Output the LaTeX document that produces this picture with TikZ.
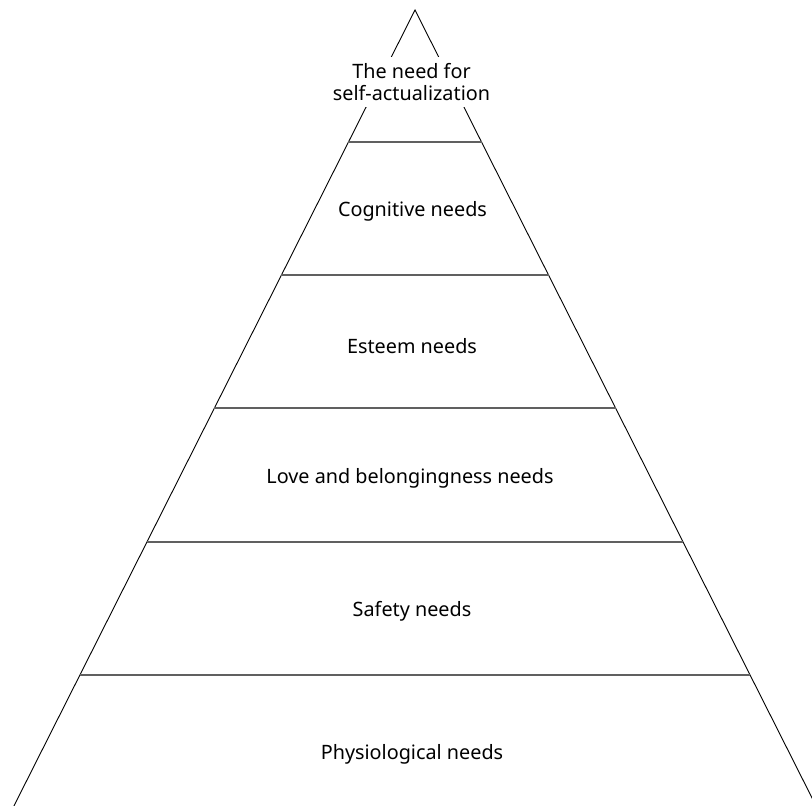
\documentclass[tikz,border=0pt]{standalone}
\usepackage{fontspec}
\newfontfamily\needfont{Noto Sans}
\usepackage{tikz}
\usetikzlibrary{calc}

\begin{document}
\begin{tikzpicture}[x=1pt,y=-1pt,font=\needfont\fontsize{19.8}{22}\selectfont,
    side/.style={black,line width=0.9pt},
    tier/.style={gray!75!black,line width=1.5pt},
    need/.style={inner sep=0pt,align=center,anchor=base}]
  \useasboundingbox (0,0) rectangle (812,806);
  \clip (0,0) rectangle (812,806);
  \coordinate (apex) at (415,10);
  \coordinate (bl) at (13.9,806);
  \coordinate (br) at (816.1,806);
  % pyramid sides
  \draw[side] (bl)--(apex)--(br);
  % tiers
  \foreach \y in {142,275,408,542,675}
    \draw[tier] ({415-0.504*(\y-10)},\y)--({415+0.504*(\y-10)},\y);
  % labels
  \node[inner sep=0pt,align=center,fill=white,minimum height=50pt,inner xsep=4pt]
    (selfact) at (411.5,82) {The need for\\self-actualization};
  \node[need] (cognitive) at (412.5,216.7) {Cognitive needs};
  \node[need] (esteem) at (412,353) {Esteem needs};
  \node[need] (love) at (410,483.3) {Love and belongingness needs};
  \node[need] (safety) at (412,616) {Safety needs};
  \node[need] (physio) at (412,759.3) {Physiological needs};
\end{tikzpicture}
\end{document}
